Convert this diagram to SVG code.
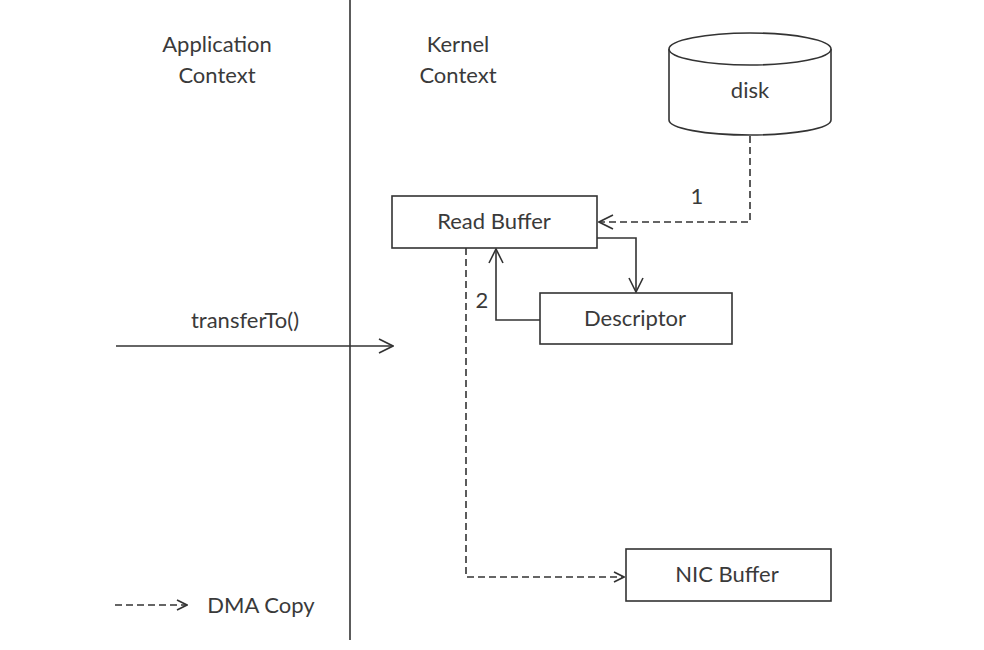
<svg xmlns="http://www.w3.org/2000/svg" width="984" height="650" viewBox="0 0 984 650">
<defs>
<style>
text{font-family:Lato,"Open Sans","Liberation Sans",sans-serif;font-size:22px;fill:#3a3a3a;text-anchor:middle}
.box{fill:#fff;stroke:#333;stroke-width:1.6}
.ln{fill:none;stroke:#333;stroke-width:1.6}
.dash{fill:none;stroke:#333;stroke-width:1.6;stroke-dasharray:7 4}
</style>
<marker id="open" viewBox="0 0 12 12" refX="11" refY="6" markerWidth="12" markerHeight="12" markerUnits="userSpaceOnUse" orient="auto">
<path d="M1,1 L11,6 L1,11" fill="none" stroke="#333" stroke-width="1.6"/>
</marker>
<marker id="openL" viewBox="0 0 16 16" refX="15" refY="8" markerWidth="16" markerHeight="16" markerUnits="userSpaceOnUse" orient="auto">
<path d="M1,1 L15,8 L1,15" fill="none" stroke="#333" stroke-width="1.6"/>
</marker>
</defs>
<rect width="984" height="650" fill="#fff"/>
<g id="divider"><line x1="350" y1="0" x2="350" y2="640" class="ln"/></g>
<g id="app-context"><text x="217" y="52">Application</text><text x="217" y="83">Context</text></g>
<g id="kernel-context"><text x="458" y="52">Kernel</text><text x="458" y="83">Context</text></g>
<g id="disk">
<path class="box" d="M669,49 L669,120 A81,15 0 0 0 831,120 L831,49"/>
<ellipse class="box" cx="750" cy="49" rx="81" ry="16"/>
<text x="750" y="98">disk</text>
</g>
<g id="read-buffer"><rect class="box" x="392" y="196" width="205" height="52"/><text x="494" y="229">Read Buffer</text></g>
<g id="descriptor"><rect class="box" x="540" y="293" width="192" height="51"/><text x="635" y="326">Descriptor</text></g>
<g id="nic-buffer"><rect class="box" x="626" y="549" width="205" height="52"/><text x="727" y="582">NIC Buffer</text></g>
<g id="connectors">
<path class="dash" d="M750,136 L750,222 L599,222" marker-end="url(#openL)"/>
<path class="ln" d="M597,238 L636,238 L636,292" marker-end="url(#openL)"/>
<path class="ln" d="M540,320 L496,320 L496,249" marker-end="url(#openL)"/>
<path class="dash" d="M466,248 L466,577 L624,577" marker-end="url(#open)"/>
<path class="ln" d="M116,346 L393,346" marker-end="url(#openL)"/>
<text x="697" y="204">1</text>
<text x="482" y="308">2</text>
<text x="245" y="328">transferTo()</text>
</g>
<g id="legend">
<path class="dash" d="M115,605 L187,605" marker-end="url(#open)"/>
<text x="261" y="613">DMA Copy</text>
</g>
</svg>
